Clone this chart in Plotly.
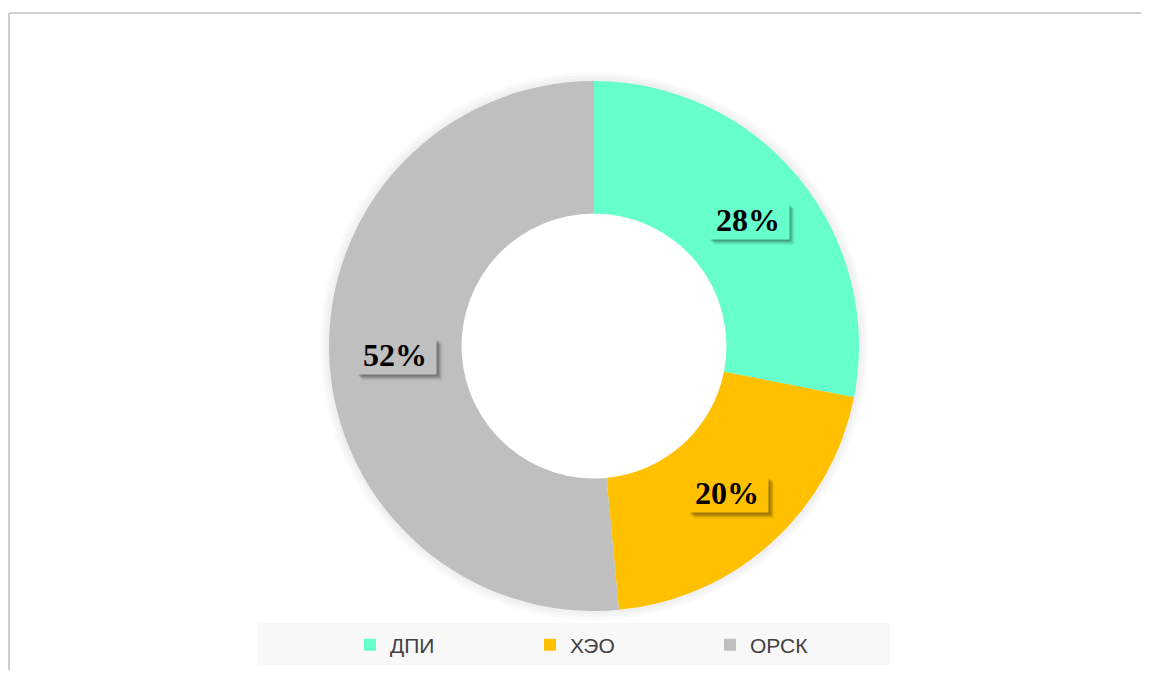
import math
import plotly.graph_objects as go

categories = ["ДПИ", "ХЭО", "ОРСК"]
values = [28.1, 20.4, 51.5]
colors = ["#66FFCC", "#FFC000", "#BFBFBF"]

# page has an 8px body margin; figure fills the rest
OFF = 8
W, H = 1149 - 2 * OFF, 678 - 2 * OFF
CX, CY, R = 594 - OFF, 346 - OFF, 265   # donut center / radius in figure px
HOLE = 0.5
BW, BH = 80, 36  # label box size in px


def px(x):
    return x / W


def py(y):
    return 1 - y / H


fig = go.Figure()
fig.add_trace(go.Pie(
    labels=categories, values=values, hole=HOLE, sort=False,
    direction="clockwise", rotation=0,
    marker=dict(colors=colors, line=dict(width=0)),
    textinfo="none", hoverinfo="label+percent",
    domain=dict(x=[px(CX - 360), px(CX + 360)], y=[py(CY + R), py(CY - R)]),
))

shapes = [
    # soft glow around donut
    *[dict(type="circle", xref="paper", yref="paper", layer="below",
           x0=px(CX - R - d), x1=px(CX + R + d), y0=py(CY + R + d), y1=py(CY - R - d),
           fillcolor="rgba(0,0,0,0.02)", line=dict(width=0)) for d in (3, 6, 9)],
    dict(type="circle", xref="paper", yref="paper", layer="below",
         x0=px(CX - R * HOLE), x1=px(CX + R * HOLE), y0=py(CY + R * HOLE), y1=py(CY - R * HOLE),
         fillcolor="white", line=dict(width=0)),
    # legend background
    dict(type="rect", xref="paper", yref="paper", layer="below",
         x0=px(257 - OFF), x1=px(890 - OFF), y0=py(665 - OFF), y1=py(623 - OFF),
         fillcolor="#F8F8F8", line=dict(width=0)),
    # chart border (top and left)
    dict(type="line", xref="paper", yref="paper", x0=px(1), x1=1, y0=py(13 - OFF), y1=py(13 - OFF),
         line=dict(color="#BFBFBF", width=1.5)),
    dict(type="line", xref="paper", yref="paper", x0=px(1), x1=px(1), y0=0, y1=py(13 - OFF),
         line=dict(color="#BFBFBF", width=1.5)),
]

# percentage labels positioned at ring middle, computed from data angles
total = sum(values)
annotations = []
cum = 0
rmid = R * (1 + HOLE) / 2
for v, c in zip(values, colors):
    mid = (cum + v / 2) / total * 2 * math.pi
    cum += v
    lx = CX + rmid * math.sin(mid)
    ly = CY - rmid * math.cos(mid)
    pct = f"{round(v / total * 100)}%"
    # blurred drop shadow behind the label box
    for off, op in [(7, 0.05), (6, 0.07), (5, 0.09), (4, 0.11), (3, 0.12)]:
        shapes.append(dict(type="rect", xref="paper", yref="paper", layer="above",
                           x0=px(lx - BW / 2 + off), x1=px(lx + BW / 2 + off),
                           y0=py(ly + BH / 2 + off), y1=py(ly - BH / 2 + off),
                           fillcolor=f"rgba(0,0,0,{op})", line=dict(width=0)))
    annotations.append(dict(x=px(lx), y=py(ly), xref="paper", yref="paper", showarrow=False,
                            xanchor="center", yanchor="middle", width=BW, height=BH,
                            text=f"<b>{pct}</b>", bgcolor=c,
                            font=dict(family="Liberation Serif", size=32, color="#000000")))

fig.update_layout(
    width=W, height=H, margin=dict(l=0, r=0, t=0, b=0),
    paper_bgcolor="white", plot_bgcolor="white",
    showlegend=True,
    legend=dict(orientation="h", x=px(350 - OFF), xanchor="left", y=py(645 - OFF), yanchor="middle",
                bgcolor="rgba(0,0,0,0)", entrywidth=135, entrywidthmode="pixels",
                font=dict(family="Liberation Sans", size=21, color="#404040"),
                traceorder="normal"),
    annotations=annotations, shapes=shapes,
)

fig.write_html("out.html")
